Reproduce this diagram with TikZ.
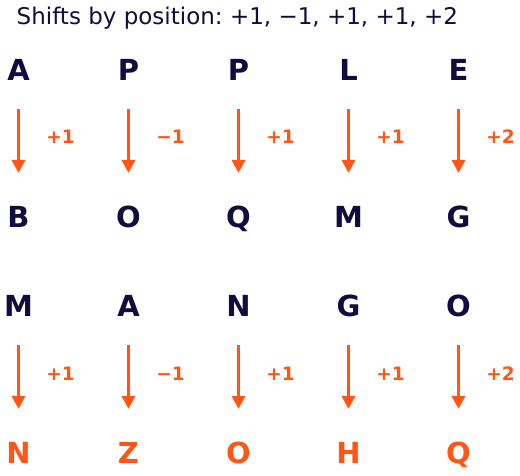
\documentclass[tikz,border=0pt]{standalone}
\usepackage{fontspec}
\setmainfont{DejaVu Sans}
\usetikzlibrary{arrows.meta}
\definecolor{navy}{HTML}{110C3E}
\definecolor{orng}{HTML}{FF5516}
\frenchspacing
\begin{document}
\begin{tikzpicture}[x=1pt,y=-1pt,
  letter/.style={inner sep=0pt,anchor=base,text height=21.1pt,text depth=0pt,font=\fontsize{29}{29}\selectfont\bfseries},
  src/.style={letter,text=navy},
  dst/.style={letter,text=navy},
  res/.style={letter,text=orng},
  shiftlbl/.style={inner sep=0pt,anchor=base,text=orng,font=\fontsize{18.5}{18.5}\selectfont\bfseries},
  arr/.style={draw=orng,line width=2.6pt,-{Triangle[width=13.5pt,length=13pt]},shorten <=28.5pt,shorten >=32.9pt}]
\useasboundingbox (0,0) rectangle (520,475);
\node[anchor=base west,inner sep=0pt,text=navy,font=\fontsize{23}{23}\selectfont] (title) at (16.5,24) {Shifts by position: +1, −1, +1, +1, +2};
% first word
\node[src] (a1) at (18.5,80.5) {A};
\node[src] (a2) at (128.5,80.5) {P};
\node[src] (a3) at (238.5,80.5) {P};
\node[src] (a4) at (348.5,80.5) {L};
\node[src] (a5) at (458.5,80.5) {E};
\node[dst] (b1) at (18.5,227) {B};
\node[dst] (b2) at (128.5,227) {O};
\node[dst] (b3) at (238.5,227) {Q};
\node[dst] (b4) at (348.5,227) {M};
\node[dst] (b5) at (458.5,227) {G};
\foreach \i in {1,...,5}{\draw[arr] (a\i.south) -- (b\i.north);}
\node[shiftlbl] (s1) at (60.5,143.5) {+1};
\node[shiftlbl] (s2) at (170.5,143.5) {−1};
\node[shiftlbl] (s3) at (280.5,143.5) {+1};
\node[shiftlbl] (s4) at (390.5,143.5) {+1};
\node[shiftlbl] (s5) at (500.5,143.5) {+2};
% second word
\node[src] (c1) at (18.5,316) {M};
\node[src] (c2) at (128.5,316) {A};
\node[src] (c3) at (238.5,316) {N};
\node[src] (c4) at (348.5,316) {G};
\node[src] (c5) at (458.5,316) {O};
\node[res] (d1) at (18.5,463) {N};
\node[res] (d2) at (128.5,463) {Z};
\node[res] (d3) at (238.5,463) {O};
\node[res] (d4) at (348.5,463) {H};
\node[res] (d5) at (458.5,463) {Q};
\foreach \i in {1,...,5}{\draw[arr] (c\i.south) -- (d\i.north);}
\node[shiftlbl] (t1) at (60.5,380) {+1};
\node[shiftlbl] (t2) at (170.5,380) {−1};
\node[shiftlbl] (t3) at (280.5,380) {+1};
\node[shiftlbl] (t4) at (390.5,380) {+1};
\node[shiftlbl] (t5) at (500.5,380) {+2};
\end{tikzpicture}
\end{document}
